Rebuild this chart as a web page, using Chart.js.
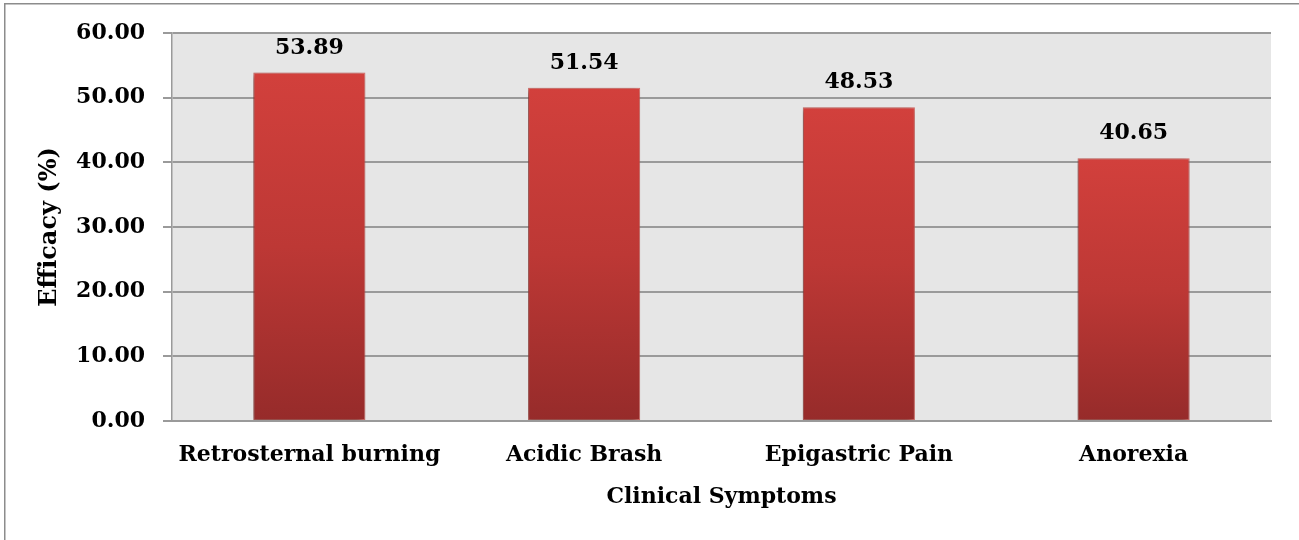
<!DOCTYPE html>
<html>
<head>
<meta charset="utf-8">
<style>
  html, body { margin: 0; padding: 0; background: #ffffff; }
  canvas { display: block; }
</style>
<script src="https://cdn.jsdelivr.net/npm/chart.js@4.4.1/dist/chart.umd.min.js"></script>
</head>
<body>
<canvas id="chart" width="1299" height="540"></canvas>
<script>
// Efficacy by clinical symptom
const symptoms = ['Retrosternal burning', 'Acidic Brash', 'Epigastric Pain', 'Anorexia'];
const efficacy = [53.89, 51.54, 48.53, 40.65];
const yTicks = [0, 10, 20, 30, 40, 50, 60];

const SERIF = '"DejaVu Serif", "Liberation Serif", serif';
const GRID = '#9a9a9a';

// Per-bar vertical gradient: brighter red at the top, deeper red at the base
function barGradient(ctx) {
  const chart = ctx.chart;
  const y = chart.scales && chart.scales.y;
  if (!y || ctx.raw === undefined) return '#c23a36';
  const top = y.getPixelForValue(ctx.raw);
  const bottom = y.getPixelForValue(0);
  if (!isFinite(top) || !isFinite(bottom) || top === bottom) return '#c23a36';
  const g = chart.ctx.createLinearGradient(0, top, 0, bottom);
  g.addColorStop(0, '#d2403c');
  g.addColorStop(0.5, '#bd3835');
  g.addColorStop(1, '#962b2a');
  return g;
}

// Frame, plot background, bar shadow and value labels
const decorations = {
  id: 'decorations',
  beforeDraw(chart) {
    const { ctx, chartArea: a } = chart;
    ctx.save();
    ctx.fillStyle = '#ffffff';
    ctx.fillRect(0, 0, chart.width, chart.height);
    ctx.strokeStyle = '#8c8c8c';
    ctx.lineWidth = 1.5;
    ctx.strokeRect(4.75, 3.75, 1300, 600);
    ctx.fillStyle = '#e6e6e6';
    ctx.fillRect(a.left, a.top, a.right - a.left, a.bottom - a.top);
    ctx.restore();
  },
  beforeDatasetsDraw(chart) {
    const ctx = chart.ctx;
    ctx.save();
    ctx.shadowColor = 'rgba(0,0,0,0.45)';
    ctx.shadowBlur = 6;
    ctx.shadowOffsetX = -2;
    ctx.shadowOffsetY = 2;
  },
  afterDatasetsDraw(chart) {
    const ctx = chart.ctx;
    ctx.restore();
    ctx.save();
    ctx.font = 'bold 22px ' + SERIF;
    ctx.fillStyle = '#000000';
    ctx.textAlign = 'center';
    ctx.textBaseline = 'alphabetic';
    const meta = chart.getDatasetMeta(0);
    meta.data.forEach((bar, i) => {
      const v = chart.data.datasets[0].data[i];
      ctx.fillText(v.toFixed(2), bar.x, bar.y - 19);
    });
    ctx.restore();
  }
};

new Chart(document.getElementById('chart'), {
  type: 'bar',
  data: {
    labels: symptoms,
    datasets: [{
      data: efficacy,
      backgroundColor: barGradient,
      borderColor: 'rgba(214,92,86,0.85)',
      borderWidth: 1,
      borderSkipped: false,
      categoryPercentage: 1,
      barPercentage: 0.408
    }]
  },
  options: {
    responsive: false,
    animation: false,
    devicePixelRatio: 1,
    layout: { padding: { left: 0, right: 28, top: 33, bottom: 0 } },
    plugins: {
      legend: { display: false },
      tooltip: { enabled: false }
    },
    scales: {
      x: {
        afterFit(scale) { scale.height = 119; },
        grid: { display: false, drawTicks: false },
        border: { display: true, color: GRID, width: 2 },
        ticks: {
          padding: 21,
          color: '#000000',
          font: { family: SERIF, size: 22, weight: 'bold' }
        },
        title: {
          display: true,
          text: 'Clinical Symptoms',
          color: '#000000',
          font: { family: SERIF, size: 22, weight: 'bold' },
          padding: { top: 0, bottom: 30 }
        }
      },
      y: {
        min: 0,
        max: 60,
        afterFit(scale) { scale.width = 172; },
        afterBuildTicks(scale) { scale.ticks = yTicks.map(v => ({ value: v })); },
        grid: { color: GRID, lineWidth: 2, tickLength: 9, tickColor: GRID, tickWidth: 2 },
        border: { display: true, color: GRID, width: 1.5 },
        ticks: {
          padding: 18,
          color: '#000000',
          font: { family: SERIF, size: 22, weight: 'bold' },
          callback: v => Number(v).toFixed(2)
        },
        title: {
          display: true,
          text: 'Efficacy (%)',
          color: '#000000',
          font: { family: SERIF, size: 24, weight: 'bold' },
          padding: { top: 35, bottom: 0 }
        }
      }
    }
  },
  plugins: [decorations]
});
</script>
</body>
</html>
